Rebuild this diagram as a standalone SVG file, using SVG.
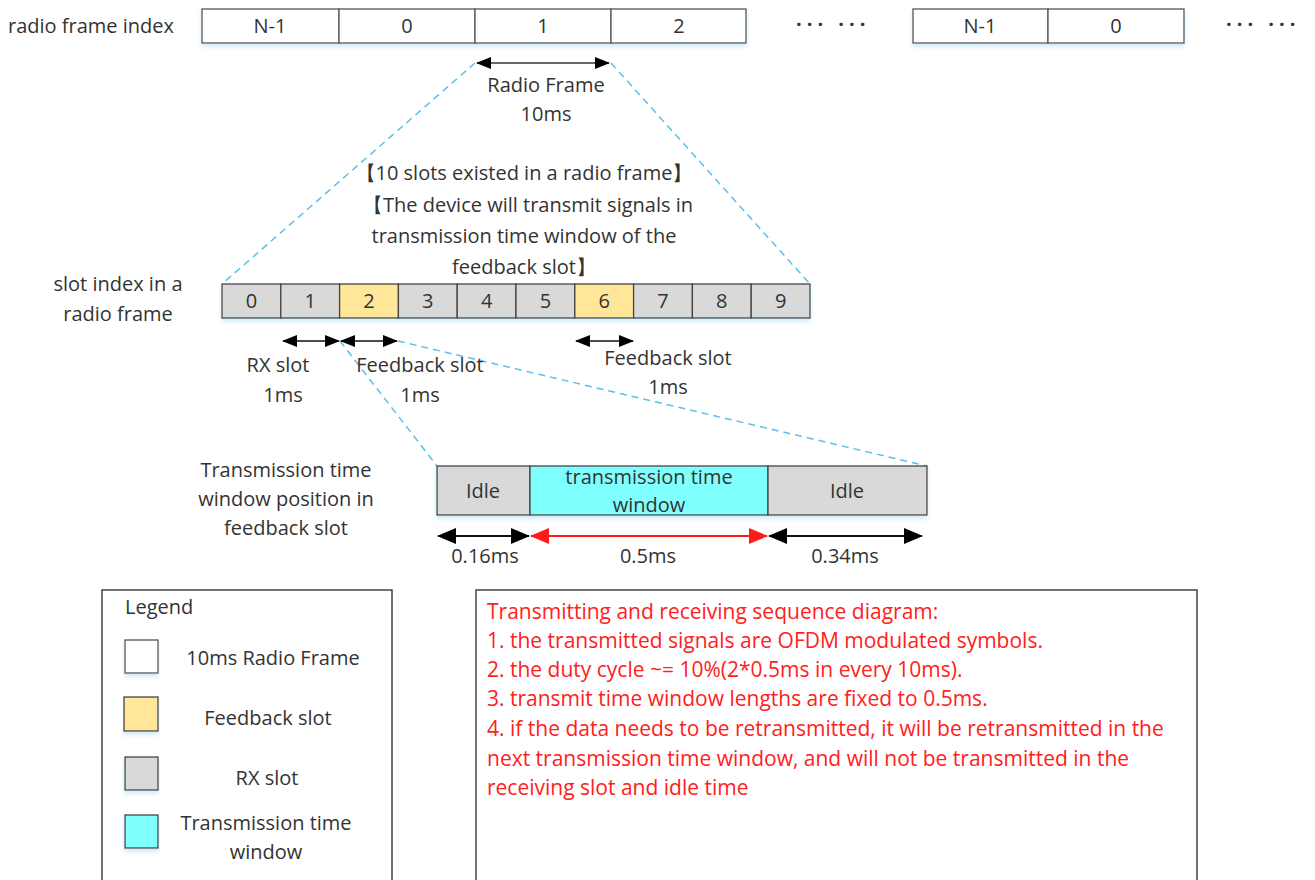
<svg xmlns="http://www.w3.org/2000/svg" width="1315" height="880" viewBox="0 0 1315 880">
<style>
text{font-family:"Open Sans","Liberation Sans",Arial,sans-serif;font-size:20px;fill:#333}
.c{text-anchor:middle}
.red{fill:#ff2020;font-size:21px}
.cell{stroke:#555;stroke-width:1.3;fill:#fff}
.rx{fill:#d9d9d9;stroke:#444;stroke-width:1.3}
.fb{fill:#ffe699;stroke:#444;stroke-width:1.3}
.tw{fill:#80ffff;stroke:#444;stroke-width:1.3}
.dash{stroke:#5bc0eb;stroke-width:1.5;stroke-dasharray:7 5;fill:none}
.arr{stroke:#111;stroke-width:1.5;marker-start:url(#ah);marker-end:url(#ah)}
.arrB{stroke:#111;stroke-width:1.8;marker-start:url(#ahB);marker-end:url(#ahB)}
.arrR{stroke:#ff1a1a;stroke-width:2;marker-start:url(#ahR);marker-end:url(#ahR)}
.frame{fill:#fff;stroke:#444;stroke-width:1.5}
.dots{letter-spacing:5px;font-size:20px;font-weight:bold;fill:#333}
</style>
<defs>
<marker id="ah" viewBox="0 0 15 12" refX="14" refY="6" markerWidth="15" markerHeight="12" markerUnits="userSpaceOnUse" orient="auto-start-reverse"><path d="M0,0 L15,6 L0,12 z" fill="#000"/></marker>
<marker id="ahB" viewBox="0 0 19 16" refX="18" refY="8" markerWidth="19" markerHeight="16" markerUnits="userSpaceOnUse" orient="auto-start-reverse"><path d="M0,0 L19,8 L0,16 z" fill="#000"/></marker>
<marker id="ahR" viewBox="0 0 19 16" refX="18" refY="8" markerWidth="19" markerHeight="16" markerUnits="userSpaceOnUse" orient="auto-start-reverse"><path d="M0,0 L19,8 L0,16 z" fill="#ff1a1a"/></marker>
<filter id="sh" x="-5%" y="-20%" width="110%" height="160%"><feDropShadow dx="0" dy="3" stdDeviation="2" flood-color="#9fd3f0" flood-opacity="0.5"/></filter>
</defs>
<rect width="1315" height="880" fill="#fff"/>

<g id="connectors">
<line class="dash" x1="475" y1="63" x2="222" y2="284"/>
<line class="dash" x1="611" y1="63" x2="810" y2="284"/>
<line class="dash" x1="340" y1="341" x2="437" y2="466"/>
<line class="dash" x1="398" y1="341" x2="927" y2="466"/>
<line class="arr" x1="477" y1="63" x2="609" y2="63" style="stroke:#666;stroke-width:2"/>
<line class="arr" x1="283" y1="341" x2="339" y2="341"/>
<line class="arr" x1="341" y1="341" x2="397" y2="341"/>
<line class="arr" x1="576" y1="341" x2="633" y2="341"/>
<line class="arrB" x1="438" y1="536" x2="529" y2="536"/>
<line class="arrR" x1="531" y1="536" x2="767" y2="536"/>
<line class="arrB" x1="769" y1="536" x2="922" y2="536"/>
</g>

<g id="radio-frame-row">
<text x="8" y="33">radio frame index</text>
<g filter="url(#sh)">
<rect class="cell" x="202" y="9" width="137" height="34"/>
<rect class="cell" x="339" y="9" width="136" height="34"/>
<rect class="cell" x="475" y="9" width="136" height="34"/>
<rect class="cell" x="611" y="9" width="135" height="34"/>
<rect class="cell" x="913" y="9" width="135" height="34"/>
<rect class="cell" x="1048" y="9" width="136" height="34"/>
</g>
<text class="c" x="270" y="33">N-1</text>
<text class="c" x="407" y="33">0</text>
<text class="c" x="543" y="33">1</text>
<text class="c" x="679" y="33">2</text>
<text class="c" x="980" y="33">N-1</text>
<text class="c" x="1116" y="33">0</text>
<text class="dots" x="796" y="31">··· ···</text>
<text class="dots" x="1226" y="31">··· ···</text>
</g>

<g id="radio-frame-label">
<text class="c" x="546" y="92">Radio Frame</text>
<text class="c" x="546" y="121">10ms</text>
</g>

<g id="bracket-note">
<text class="c" x="524" y="180">【10 slots existed in a radio frame】</text>
<text class="c" x="528" y="212">【The device will transmit signals in</text>
<text class="c" x="524" y="243">transmission time window of the</text>
<text class="c" x="524" y="274">feedback slot】</text>
</g>

<g id="slot-row">
<text class="c" x="118" y="291">slot index in a</text>
<text class="c" x="118" y="321">radio frame</text>
<g filter="url(#sh)">
<rect class="rx" x="222" y="284" width="58.8" height="34"/>
<rect class="rx" x="280.8" y="284" width="58.8" height="34"/>
<rect class="fb" x="339.6" y="284" width="58.8" height="34"/>
<rect class="rx" x="398.4" y="284" width="58.8" height="34"/>
<rect class="rx" x="457.2" y="284" width="58.8" height="34"/>
<rect class="rx" x="516" y="284" width="58.8" height="34"/>
<rect class="fb" x="574.8" y="284" width="58.8" height="34"/>
<rect class="rx" x="633.6" y="284" width="58.8" height="34"/>
<rect class="rx" x="692.4" y="284" width="58.8" height="34"/>
<rect class="rx" x="751.2" y="284" width="58.8" height="34"/>
</g>
<text class="c" x="251.4" y="308">0</text>
<text class="c" x="310.2" y="308">1</text>
<text class="c" x="369" y="308">2</text>
<text class="c" x="427.8" y="308">3</text>
<text class="c" x="486.6" y="308">4</text>
<text class="c" x="545.4" y="308">5</text>
<text class="c" x="604.2" y="308">6</text>
<text class="c" x="663" y="308">7</text>
<text class="c" x="721.8" y="308">8</text>
<text class="c" x="780.6" y="308">9</text>
</g>

<g id="slot-labels">
<text class="c" x="278" y="372">RX slot</text>
<text class="c" x="283" y="402">1ms</text>
<text class="c" x="420" y="372">Feedback slot</text>
<text class="c" x="420" y="402">1ms</text>
<text class="c" x="668" y="365">Feedback slot</text>
<text class="c" x="668" y="394">1ms</text>
</g>

<g id="feedback-slot-detail">
<text class="c" x="286" y="477">Transmission time</text>
<text class="c" x="286" y="506">window position in</text>
<text class="c" x="286" y="535">feedback slot</text>
<g filter="url(#sh)">
<rect class="rx" x="437" y="466" width="93" height="49"/>
<rect class="tw" x="530" y="466" width="238" height="49"/>
<rect class="rx" x="768" y="466" width="159" height="49"/>
</g>
<text class="c" x="483" y="498">Idle</text>
<text class="c" x="649" y="484">transmission time</text>
<text class="c" x="649" y="512">window</text>
<text class="c" x="847" y="498">Idle</text>
<text class="c" x="485" y="563">0.16ms</text>
<text class="c" x="648" y="563">0.5ms</text>
<text class="c" x="845" y="563">0.34ms</text>
</g>

<g id="legend">
<rect class="frame" x="102" y="590" width="290" height="300"/>
<text x="125" y="614">Legend</text>
<g filter="url(#sh)">
<rect class="cell" x="125" y="640" width="33" height="33"/>
<rect class="fb" x="124" y="697" width="34" height="34"/>
<rect class="rx" x="125" y="757" width="33" height="33"/>
<rect class="tw" x="125" y="815" width="33" height="33"/>
</g>
<text class="c" x="273" y="665">10ms Radio Frame</text>
<text class="c" x="268" y="725">Feedback slot</text>
<text class="c" x="267" y="785">RX slot</text>
<text class="c" x="266" y="830">Transmission time</text>
<text class="c" x="266" y="859">window</text>
</g>

<g id="notes">
<rect class="frame" x="476" y="590" width="721" height="300"/>
<text class="red" x="487" y="619">Transmitting and receiving sequence diagram:</text>
<text class="red" x="487" y="648">1. the transmitted signals are OFDM modulated symbols.</text>
<text class="red" x="487" y="677">2. the duty cycle ~= 10%(2*0.5ms in every 10ms).</text>
<text class="red" x="487" y="706">3. transmit time window lengths are fixed to 0.5ms.</text>
<text class="red" x="487" y="736">4. if the data needs to be retransmitted, it will be retransmitted in the</text>
<text class="red" x="487" y="766">next transmission time window, and will not be transmitted in the</text>
<text class="red" x="487" y="795">receiving slot and idle time</text>
</g>
</svg>
